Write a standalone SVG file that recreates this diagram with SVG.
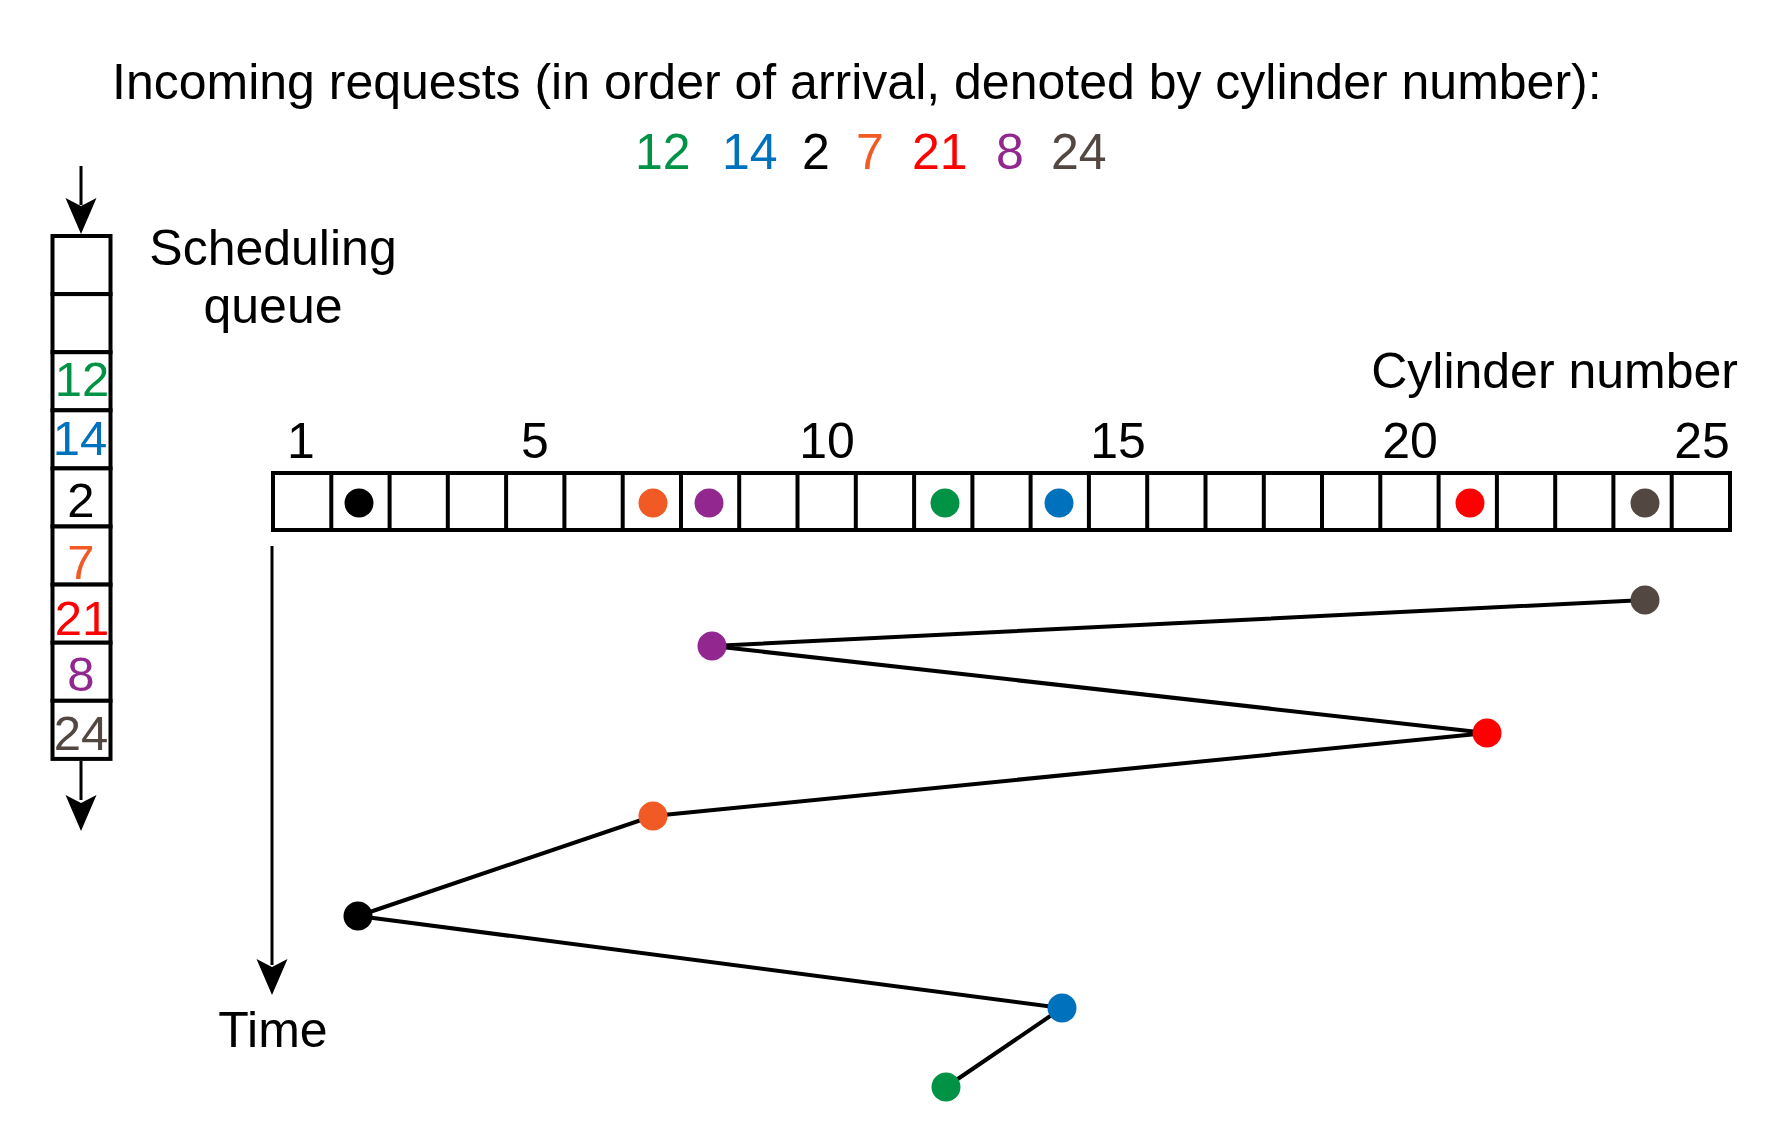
<svg xmlns="http://www.w3.org/2000/svg" width="1788" height="1129" viewBox="0 0 1788 1129">
<style>
text{font-family:"Liberation Sans",Arial,sans-serif;font-size:50px;fill:#000}
.cell{fill:#fff;stroke:#000;stroke-width:4}
.q{font-size:49px;text-anchor:middle}
.ax{text-anchor:middle}
.conn{stroke:#000;stroke-width:4;fill:none;stroke-linejoin:miter}
.arr{stroke:#000;stroke-width:3;fill:none}
.g{fill:#009245}.b{fill:#0071BC}.k{fill:#000}.o{fill:#F15A24}.r{fill:#FF0000}.p{fill:#92278F}.d{fill:#534741}
</style>
<defs>
<path id="head" d="M-15.5,-36 L0,0 L15.5,-36 L0,-28 Z" fill="#000"/>
</defs>
<rect width="1788" height="1129" fill="#fff"/>

<g id="title">
<text x="112" y="99">Incoming requests (in order of arrival, denoted by cylinder number):</text>
</g>
<g id="incoming">
<text x="635" y="169" class="g">12</text>
<text x="722" y="169" class="b">14</text>
<text x="802" y="169" class="k">2</text>
<text x="856" y="169" class="o">7</text>
<text x="912" y="169" class="r">21</text>
<text x="996" y="169" class="p">8</text>
<text x="1051" y="169" class="d">24</text>
</g>

<g id="queue">
<rect class="cell" x="52.5" y="236" width="58" height="58.1"/>
<rect class="cell" x="52.5" y="294.1" width="58" height="58.1"/>
<rect class="cell" x="52.5" y="352.2" width="58" height="58.1"/>
<rect class="cell" x="52.5" y="410.3" width="58" height="58.1"/>
<rect class="cell" x="52.5" y="468.4" width="58" height="58.1"/>
<rect class="cell" x="52.5" y="526.5" width="58" height="58.1"/>
<rect class="cell" x="52.5" y="584.6" width="58" height="58.1"/>
<rect class="cell" x="52.5" y="642.7" width="58" height="58.1"/>
<rect class="cell" x="52.5" y="700.8" width="58" height="58.1"/>
<text class="q g" x="82" y="396">12</text>
<text class="q b" x="80" y="455">14</text>
<text class="q k" x="81" y="517">2</text>
<text class="q o" x="81" y="579">7</text>
<text class="q r" x="82" y="635">21</text>
<text class="q p" x="81" y="691">8</text>
<text class="q d" x="81" y="750">24</text>
</g>

<g id="queue-label">
<text x="273" y="265" class="ax">Scheduling</text>
<text x="273" y="323" class="ax">queue</text>
</g>

<g id="cylinder-label">
<text x="1738" y="388" text-anchor="end">Cylinder number</text>
</g>

<g id="axis-numbers">
<text x="301" y="458" class="ax">1</text>
<text x="535" y="458" class="ax">5</text>
<text x="827" y="458" class="ax">10</text>
<text x="1118" y="458" class="ax">15</text>
<text x="1410" y="458" class="ax">20</text>
<text x="1702" y="458" class="ax">25</text>
</g>

<g id="cylinder-strip">
<rect class="cell" x="273" y="473" width="1457" height="57"/>
<path stroke="#000" stroke-width="4" d="M331.3,473V530M389.6,473V530M447.8,473V530M506.1,473V530M564.4,473V530M622.7,473V530M681,473V530M739.2,473V530M797.5,473V530M855.8,473V530M914.1,473V530M972.4,473V530M1030.6,473V530M1088.9,473V530M1147.2,473V530M1205.5,473V530M1263.8,473V530M1322,473V530M1380.3,473V530M1438.6,473V530M1496.9,473V530M1555.2,473V530M1613.4,473V530M1671.7,473V530"/>
<circle class="k" cx="359" cy="503" r="14.5"/>
<circle class="o" cx="653" cy="503" r="14.5"/>
<circle class="p" cx="709" cy="503" r="14.5"/>
<circle class="g" cx="945" cy="503" r="14.5"/>
<circle class="b" cx="1059" cy="503" r="14.5"/>
<circle class="r" cx="1470" cy="503" r="14.5"/>
<circle class="d" cx="1645" cy="503" r="14.5"/>
</g>

<g id="time-label">
<text x="273" y="1047" class="ax">Time</text>
</g>

<g id="connectors">
<line class="arr" x1="81" y1="166" x2="81" y2="205"/>
<use href="#head" x="81" y="234"/>
<line class="arr" x1="81" y1="761" x2="81" y2="800"/>
<use href="#head" x="81" y="831"/>
<line class="arr" x1="272" y1="546" x2="272" y2="965"/>
<use href="#head" x="272" y="995"/>
<polyline class="conn" points="1645,600 712,646 1487,733 653,816 358,916 1062,1008 946,1087"/>
</g>

<g id="schedule-dots">
<circle class="d" cx="1645" cy="600" r="14.5"/>
<circle class="p" cx="712" cy="646" r="14.5"/>
<circle class="r" cx="1487" cy="733" r="14.5"/>
<circle class="o" cx="653" cy="816" r="14.5"/>
<circle class="k" cx="358" cy="916" r="14.5"/>
<circle class="b" cx="1062" cy="1008" r="14.5"/>
<circle class="g" cx="946" cy="1087" r="14.5"/>
</g>
</svg>
